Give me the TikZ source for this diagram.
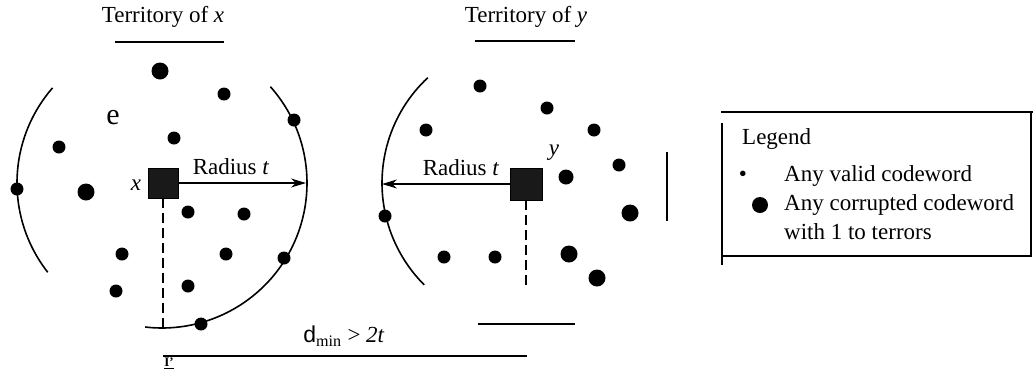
\documentclass[tikz,border=0pt]{standalone}
\usepackage{fontspec}
\setmainfont{Liberation Serif}
\newfontfamily\dsans{Liberation Sans}
\usetikzlibrary{arrows.meta}
\begin{document}
\begin{tikzpicture}[x=1pt,y=-1pt,
  dot/.style={circle,fill=black,inner sep=0pt,minimum size=13pt},
  bigdot/.style={circle,fill=black,inner sep=0pt,minimum size=17pt},
  cw/.style={fill=black!90,draw=black,minimum size=30pt,inner sep=0pt},
  lbl/.style={font=\fontsize{23}{27}\selectfont,inner sep=0pt},
  small/.style={font=\fontsize{13}{15}\selectfont\bfseries,inner sep=0pt},
  bigletter/.style={font=\fontsize{30}{34}\selectfont,inner sep=0pt},
  arcline/.style={line width=1.6pt},
  rad/.style={line width=1.2pt,-{Stealth[length=15pt,width=9pt]}},
  dashline/.style={line width=1.2pt,dash pattern=on 10pt off 5pt},
  bar/.style={line width=1.4pt},
  thickbar/.style={line width=2.8pt}]
\useasboundingbox (0,0) rectangle (1033,373);

% ---- titles
\node[lbl] (tx) at (163,17) {Territory of \textit{x}};
\draw[bar] (115,42) -- (224,42);
\node[lbl] (ty) at (526,17) {Territory of \textit{y}};
\draw[bar] (475,41) -- (575,41);

% ---- left territory
\draw[arcline] (162,183) ++(-139:145) arc[start angle=-139,end angle=-218,radius=145];
\draw[arcline] (162,183) ++(-41.6:145) arc[start angle=-41.6,end angle=96.7,radius=145];
\node[cw] (sx) at (163,183) {};
\coordinate (ex) at (306,183);
\coordinate (bx) at (163,328);
\draw[rad] (sx.east) -- (ex);
\draw[dashline] (sx.south) -- (bx);
\node[lbl,font=\fontsize{23}{27}\selectfont\itshape] (lx) at (136,185) {x};
\node[lbl] (rx) at (231,167) {Radius \textit{t}};
\node[bigletter] (le) at (113,118) {e};

\node[bigdot] (a1) at (160,71) {};
\node[dot] (a2) at (224,94) {};
\node[dot] (a3) at (294,120) {};
\node[dot] (a4) at (174,138) {};
\node[dot] (a5) at (59,147) {};
\node[dot] (a6) at (17,189) {};
\node[bigdot] (a7) at (86,192) {};
\node[dot] (a8) at (188,212) {};
\node[dot] (a9) at (244,214) {};
\node[dot] (a10) at (122,254) {};
\node[dot] (a11) at (226,254) {};
\node[dot] (a12) at (284,258) {};
\node[dot] (a13) at (116,291) {};
\node[dot] (a14) at (188,286) {};
\node[dot] (a15) at (201,324) {};

% ---- right territory
\draw[arcline] (526,183) ++(-133:144) arc[start angle=-133,end angle=-225,radius=144];
\node[cw,minimum size=32pt] (sy) at (526,184) {};
\coordinate (ey) at (382,184);
\coordinate (by) at (526,285);
\draw[rad] (sy.west) -- (ey);
\draw[dashline] (sy.south) -- (by);
\node[lbl,font=\fontsize{23}{27}\selectfont\itshape] (ly) at (554,153) {y};
\node[lbl] (ry) at (461,168) {Radius \textit{t}};

\node[dot] (b1) at (480,86) {};
\node[dot] (b2) at (547,108) {};
\node[dot] (b3) at (426,130) {};
\node[dot] (b4) at (594,130) {};
\node[dot] (b5) at (619,165) {};
\node[dot,minimum size=15pt] (b6) at (566,177) {};
\node[dot] (b7) at (385,216) {};
\node[bigdot] (b8) at (630,213) {};
\node[dot] (b9) at (444,257) {};
\node[dot] (b10) at (495,257) {};
\node[bigdot] (b11) at (569,254) {};
\node[bigdot] (b12) at (597,278) {};

\draw[line width=1.3pt] (667,152) -- (667,221);
\draw[line width=2pt] (478,324) -- (575,324);

% ---- distance
\node[lbl] (dm) at (344,336) {{\dsans d}$_{\mathrm{min}}$ > \textit{2t}};
\draw[bar] (163,356) -- (527,356);
\node[small] (ip) at (169,363) {\underline{I'}};

% ---- legend
\draw[line width=1.1pt] (721,112) -- (1033,112);
\draw[line width=1.1pt] (722,123) -- (722,265);
\draw[thickbar] (722,256) -- (1032,256);
\draw[line width=2.2pt] (1031,112) -- (1031,256);
\node[lbl,anchor=west] (lg) at (742,139) {Legend};
\node[lbl] (lb) at (743,176) {•};
\node[lbl,anchor=west] (l1) at (784,176) {Any valid codeword};
\node[bigdot,minimum size=16pt] (ld) at (760,205) {};
\node[lbl,anchor=west] (l2) at (784,205) {Any corrupted codeword};
\node[lbl,anchor=west] (l3) at (784,232) {with 1 to terrors};
\end{tikzpicture}
\end{document}
